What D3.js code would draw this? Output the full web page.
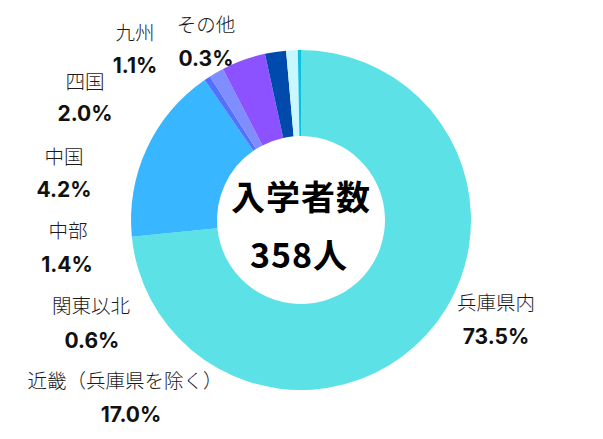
<!DOCTYPE html>
<html>
<head>
<meta charset="utf-8">
<title>入学者数</title>
<script src="https://cdn.jsdelivr.net/npm/d3@7"></script>
<style>
    * {
        margin: 0;
        padding: 0;
    }
    body {
        background: #fff;
    }
    .cat {
        font-family: "Noto Sans CJK JP", sans-serif;
        font-weight: 200;
        font-size: 19.5px;
        fill: #1a1a1a;
    }
    .pct {
        font-family: Inter, "Noto Sans", sans-serif;
        font-weight: 700;
        font-size: 21px;
        fill: #111;
    }
    .center {
        font-family: "Noto Sans CJK JP", sans-serif;
        font-weight: 700;
        font-size: 34px;
        fill: #000;
        letter-spacing: 1px;
    }
</style>
</head>
<body>
<script>
    // data
    var categories = ["兵庫県内", "近畿（兵庫県を除く）", "関東以北", "中部", "中国", "四国", "九州", "その他"];
    var shares = [73.5, 17.0, 0.6, 1.4, 4.2, 2.0, 1.1, 0.3];
    var colors = ["#5ce1e6", "#38b6ff", "#5271ff", "#7f8dff", "#8c52ff", "#004aad", "#c9f7ff", "#0cc0df"];
    var totalLabel = "入学者数";
    var totalValue = "358人";

    var width = 603,
        height = 439,
        cx = 301,
        cy = 220,
        outer = 170,
        inner = 84;

    // where each label block sits (category line centre x, y; percent line y)
    var labelPos = [
        [496, 301, 336],
        [125, 379, 414],
        [91, 304, 340],
        [68, 229, 264],
        [64, 155, 189],
        [85, 80, 113],
        [135, 31, 65],
        [206, 23, 58]
    ];
    var pctX = [496, 131, 92, 67, 64, 85, 135, 206];

    var svg = d3.select("body").append("svg")
        .attr("width", width)
        .attr("height", height);

    var g = svg.append("g")
        .attr("transform", "translate(" + cx + "," + cy + ")");

    var pie = d3.pie().sort(null).value(function(d) { return d; });
    var arc = d3.arc().innerRadius(inner).outerRadius(outer);

    g.selectAll("path")
        .data(pie(shares))
        .enter().append("path")
        .attr("d", arc)
        .attr("fill", function(d, i) { return colors[i]; });

    // labels
    var labels = svg.selectAll(".label")
        .data(categories)
        .enter().append("g")
        .attr("class", "label");

    labels.append("text")
        .attr("class", "cat")
        .attr("x", function(d, i) { return labelPos[i][0]; })
        .attr("y", function(d, i) { return labelPos[i][1]; })
        .attr("text-anchor", "middle")
        .attr("dominant-baseline", "central")
        .text(function(d) { return d; });

    labels.append("text")
        .attr("class", "pct")
        .attr("x", function(d, i) { return pctX[i]; })
        .attr("y", function(d, i) { return labelPos[i][2]; })
        .attr("text-anchor", "middle")
        .attr("dominant-baseline", "central")
        .text(function(d, i) { return shares[i].toFixed(1) + "%"; });

    // centre text
    g.append("text")
        .attr("class", "center")
        .attr("x", 0)
        .attr("y", -25)
        .attr("text-anchor", "middle")
        .attr("dominant-baseline", "central")
        .text(totalLabel);

    g.append("text")
        .attr("class", "center")
        .attr("x", -2)
        .attr("y", 33)
        .attr("text-anchor", "middle")
        .attr("dominant-baseline", "central")
        .text(totalValue);
</script>
</body>
</html>
